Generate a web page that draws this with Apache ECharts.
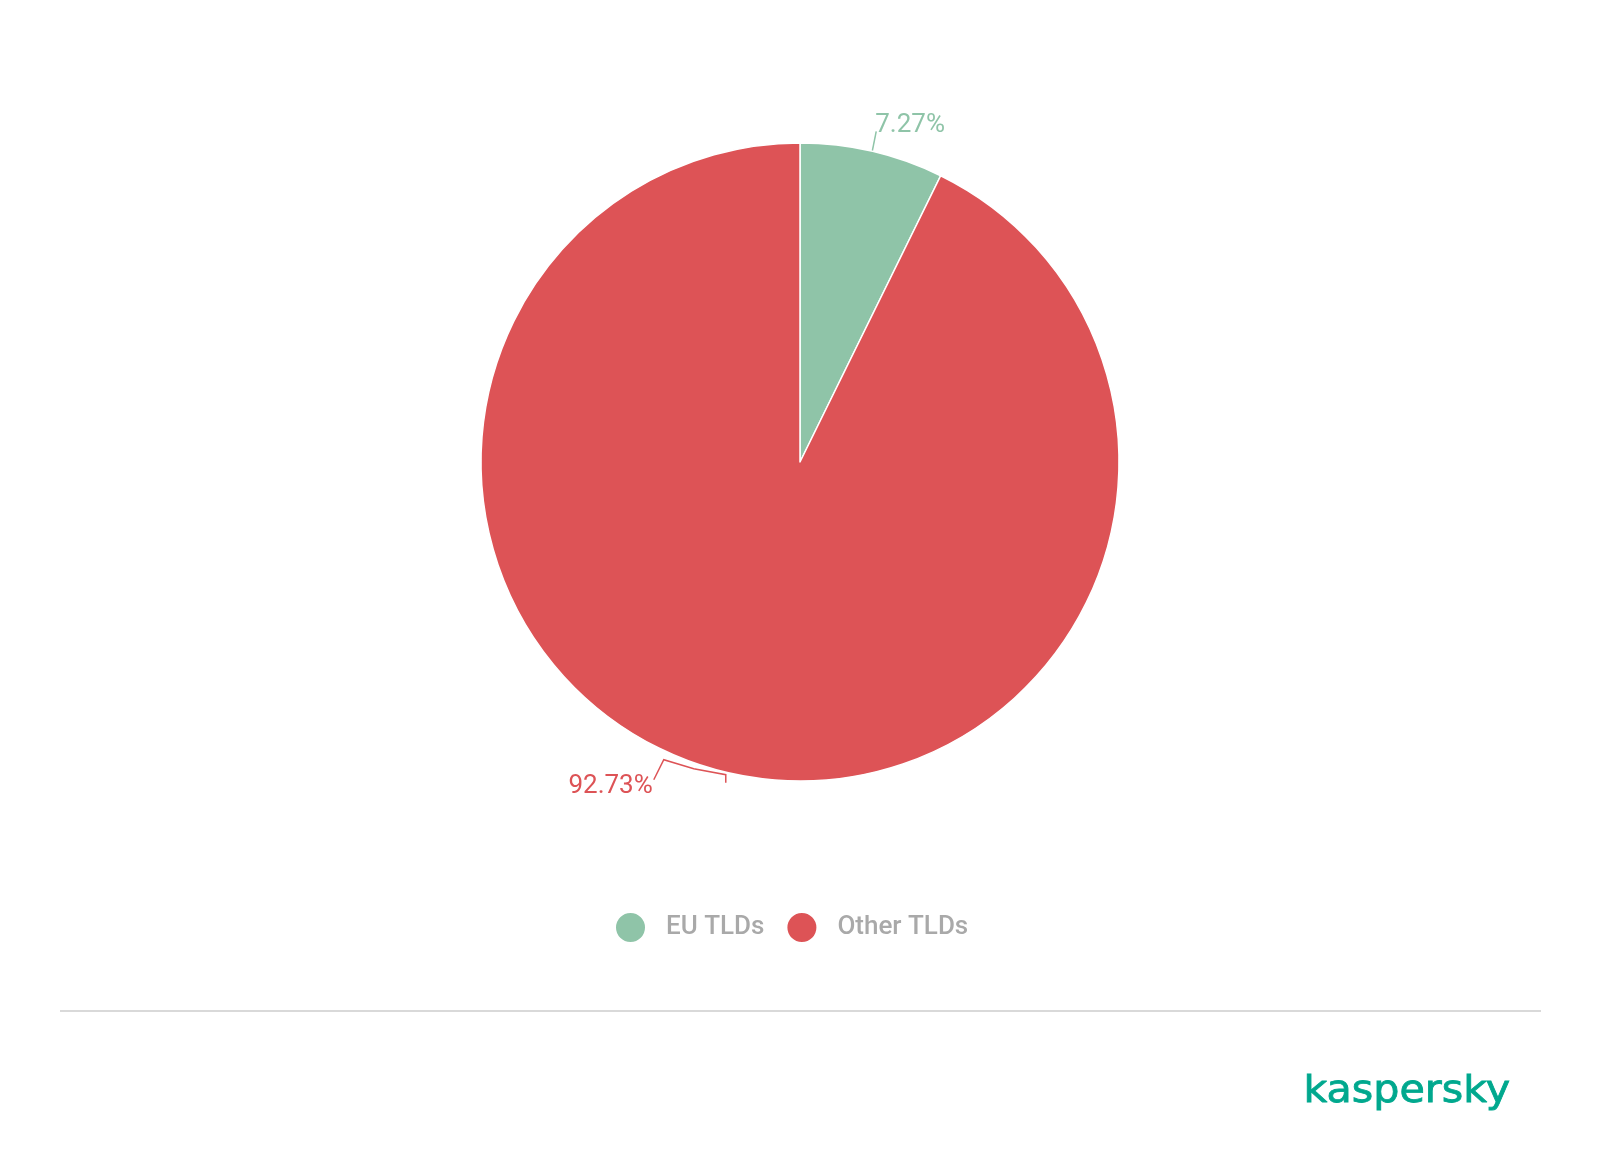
<!DOCTYPE html>
<html>
<head>
<meta charset="utf-8">
<script src="https://cdn.jsdelivr.net/npm/echarts@6/dist/echarts.min.js"></script>
<style>
html,body{margin:0;padding:0;background:#fff;}
#chart{width:1600px;height:1174px;}
</style>
</head>
<body>
<div id="chart"></div>
<script>
const categories = ['EU TLDs', 'Other TLDs'];
const values = [7.27, 92.73];
const colors = ['#8fc4a8', '#dd5356'];

const chart = echarts.init(document.getElementById('chart'), null, {renderer: 'canvas'});

const option = {
  backgroundColor: '#ffffff',
  animation: false,
  legend: {
    data: categories,
    left: 609,
    top: 906,
    icon: 'circle',
    itemWidth: 31,
    itemHeight: 31,
    itemGap: 21,
    textStyle: {
      color: '#a9a9a9',
      fontFamily: 'Roboto',
      fontWeight: 500,
      fontSize: 26,
      padding: [0, 0, 0, 15]
    }
  },
  series: [{
    type: 'pie',
    center: [800, 462],
    radius: [0, 319],
    startAngle: 90,
    clockwise: true,
    itemStyle: { borderColor: '#ffffff', borderWidth: 1.5 },
    label: {
      show: true,
      fontFamily: 'Roboto',
      fontSize: 26,
      formatter: function (p) { return p.value.toFixed(2) + '%'; }
    },
    labelLine: { show: true, length: 10, length2: 10, lineStyle: { width: 1.5 } },
    labelLayout: function (params) {
      const p0 = params.labelLinePoints[0];
      if (params.dataIndex === 0) {
        return {
          x: p0[0] + 3,
          y: p0[1] - 26,
          align: 'left',
          verticalAlign: 'middle',
          labelLinePoints: [[p0[0], p0[1]], [p0[0] + 2, p0[1] - 10], [p0[0] + 4, p0[1] - 20]]
        };
      }
      return {
        x: p0[0] - 75,
        y: p0[1] + 14,
        align: 'right',
        verticalAlign: 'middle',
        labelLinePoints: [
          [p0[0] - 2, p0[1] + 10],
          [p0[0] - 2, p0[1] + 2],
          [p0[0] - 34, p0[1] - 4],
          [p0[0] - 64, p0[1] - 13],
          [p0[0] - 74, p0[1] + 7]
        ]
      };
    },
    data: categories.map(function (c, i) {
      return {
        name: c,
        value: values[i],
        itemStyle: { color: colors[i] },
        label: { color: colors[i] },
        labelLine: { lineStyle: { color: colors[i] } }
      };
    })
  }],
  graphic: [
    {
      type: 'line',
      shape: { x1: 60, y1: 1011, x2: 1541, y2: 1011 },
      style: { stroke: '#d9d9d9', lineWidth: 2 }
    },
    {
      type: 'text',
      left: 1303,
      top: 1073,
      scaleX: 1.085,
      style: {
        text: 'kaspersky',
        fill: '#00a88e',
        stroke: '#00a88e',
        lineWidth: 0.8,
        fontFamily: 'DejaVu Sans',
        fontSize: 38,
        fontWeight: 'normal'
      }
    }
  ]
};
chart.setOption(option);
</script>
</body>
</html>
